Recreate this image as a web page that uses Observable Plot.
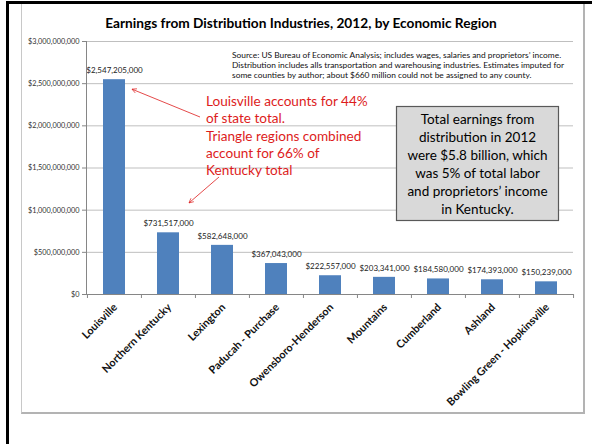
<!DOCTYPE html>
<html><head><meta charset="utf-8">
<script src="https://cdn.jsdelivr.net/npm/d3@7"></script>
<script src="https://cdn.jsdelivr.net/npm/@observablehq/plot@0.6"></script>
<style>
body{margin:0;background:#fff;}
#wrap{position:relative;width:592px;height:444px;overflow:hidden;font-family:Lato,"Open Sans",sans-serif;}
#wrap svg{position:absolute;left:0;top:0;}
.blackTop{position:absolute;left:6px;top:1px;width:586px;height:3px;background:#000;}
.blackLeft{position:absolute;left:6px;top:1px;width:3px;height:443px;background:#000;}
.chartBox{position:absolute;left:21px;top:4px;width:561px;height:408px;border-right:2px solid #b3b3b3;border-bottom:2px solid #b3b3b3;border-left:1px solid #c8c8c8;}
</style></head><body><div id="wrap"><div class="chartBox"></div></div>
<script>
const regions = ["Louisville","Northern Kentucky","Lexington","Paducah - Purchase","Owensboro-Henderson","Mountains","Cumberland","Ashland","Bowling Green - Hopkinsville"];
const earnings = [2547205000,731517000,582648000,367043000,222557000,203341000,184580000,174393000,150239000];
const yTicks = [0,500000000,1000000000,1500000000,2000000000,2500000000,3000000000];
const titleText = "Earnings from Distribution Industries, 2012, by Economic Region";
const sourceLines = [
  "Source: US Bureau of Economic Analysis; includes wages, salaries and proprietors\u2019 income.",
  "Distribution includes alls transportation and warehousing industries. Estimates imputed for",
  "some counties by author; about $660 million could not be assigned to any county."
];
const redLines = ["Louisville accounts for 44%","of state total.","Triangle regions combined","account for 66% of","Kentucky total"];
const boxLines = ["Total earnings from","distribution in 2012","were $5.8 billion, which","was 5% of total labor","and proprietors\u2019 income","in Kentucky."];

const data = regions.map((r,i)=>({region:r, value:earnings[i]}));
const money = d => "$" + d3.format(",")(d);

const W=592, H=444, ML=86, MR=19, MT=41, MB=150;
const step = (W-ML-MR)/regions.length;
const font = "Lato, 'Open Sans', sans-serif";

const plot = Plot.plot({
  width: W, height: H,
  marginLeft: ML, marginRight: MR, marginTop: MT, marginBottom: MB,
  style: {fontFamily: font, background: "transparent", overflow: "visible"},
  x: {domain: regions, paddingInner: 0.6, paddingOuter: 0.3},
  y: {domain: [0, 3000000000]},
  marks: [
    Plot.gridY(yTicks, {stroke: "#bfbfbf", strokeOpacity: 1}),
    Plot.barY(data, {x: "region", y: "value", fill: "#4f81bd"}),
    Plot.text(data, {x: "region", y: "value", text: d => money(d.value), dy: -9, fontSize: 8, fill: "#222"}),
    Plot.axisY(yTicks, {tickFormat: money, tickSize: 4, tickPadding: 3, stroke: "#868686", fill: "#333", fontSize: 7.3, label: null}),
    Plot.frame({anchor: "left", stroke: "#868686"}),
    Plot.ruleY([0], {stroke: "#868686"}),
    Plot.ruleX(regions, {x: d => d, dx: -step/2, y1: 0, y2: 0, insetBottom: -4, stroke: "#868686"}),
    Plot.ruleX([regions[regions.length-1]], {x: d => d, dx: step/2, y1: 0, y2: 0, insetBottom: -4, stroke: "#868686"}),
    Plot.axisX({tickRotate: -45, tickSize: 0, tickPadding: 11, dx: 1, fontWeight: "bold", fontSize: 10.8, fill: "#111", label: null})
  ]
});
document.getElementById("wrap").appendChild(plot);
const lt = document.createElement("div"); lt.className="blackTop"; document.getElementById("wrap").appendChild(lt);
const ll = document.createElement("div"); ll.className="blackLeft"; document.getElementById("wrap").appendChild(ll);

const xs = plot.scale("x"), ys = plot.scale("y");
const cx = r => xs.apply(r) + xs.bandwidth/2;
const svg = d3.select(plot);
const g = svg.append("g").attr("font-family", font);

// title
g.append("text").attr("x", 301).attr("y", 22).attr("text-anchor","middle").attr("dominant-baseline","central")
  .attr("font-weight","bold").attr("font-size",13.7).attr("fill","#000").text(titleText);

// source note
sourceLines.forEach((t,i)=> g.append("text").attr("x",232).attr("y",55+i*10).attr("text-anchor","start").attr("dominant-baseline","central")
  .attr("font-size",8.4).attr("fill","#111").text(t));

// red note
const red = "#dd1c1c";
redLines.forEach((t,i)=> g.append("text").attr("x",206).attr("y",101+i*17.3).attr("text-anchor","start").attr("dominant-baseline","central")
  .attr("font-size",13.6).attr("fill",red).text(t));

// arrows anchored to data
const defs = svg.append("defs");
defs.append("marker").attr("id","ah").attr("viewBox","0 0 10 10").attr("refX",9).attr("refY",5)
  .attr("markerWidth",7).attr("markerHeight",7).attr("orient","auto")
  .append("path").attr("d","M1,1 L9,5 L1,9").attr("fill","none").attr("stroke",red).attr("stroke-width",1.2);
const louX = cx(regions[0]) + xs.bandwidth/2 + 7, louY = ys.apply(earnings[0]) + 10;
g.append("line").attr("x1",200).attr("y1",117).attr("x2",louX).attr("y2",louY)
  .attr("stroke",red).attr("stroke-width",0.8).attr("marker-end","url(#ah)");
const triX = (cx(regions[1]) + cx(regions[2]))/2 - 6, triY = ys.apply(1080000000);
g.append("line").attr("x1",219).attr("y1",177).attr("x2",triX).attr("y2",triY)
  .attr("stroke",red).attr("stroke-width",0.8).attr("marker-end","url(#ah)");

// gray box
g.append("rect").attr("x",396.5).attr("y",106.5).attr("width",162).attr("height",114)
  .attr("fill","#d9d9d9").attr("stroke","#595959").attr("stroke-width",1.2);
boxLines.forEach((t,i)=> g.append("text").attr("x",477.5).attr("y",119+i*18).attr("text-anchor","middle")
  .attr("dominant-baseline","central").attr("font-size",13.5).attr("fill","#000").text(t));
</script></body></html>
